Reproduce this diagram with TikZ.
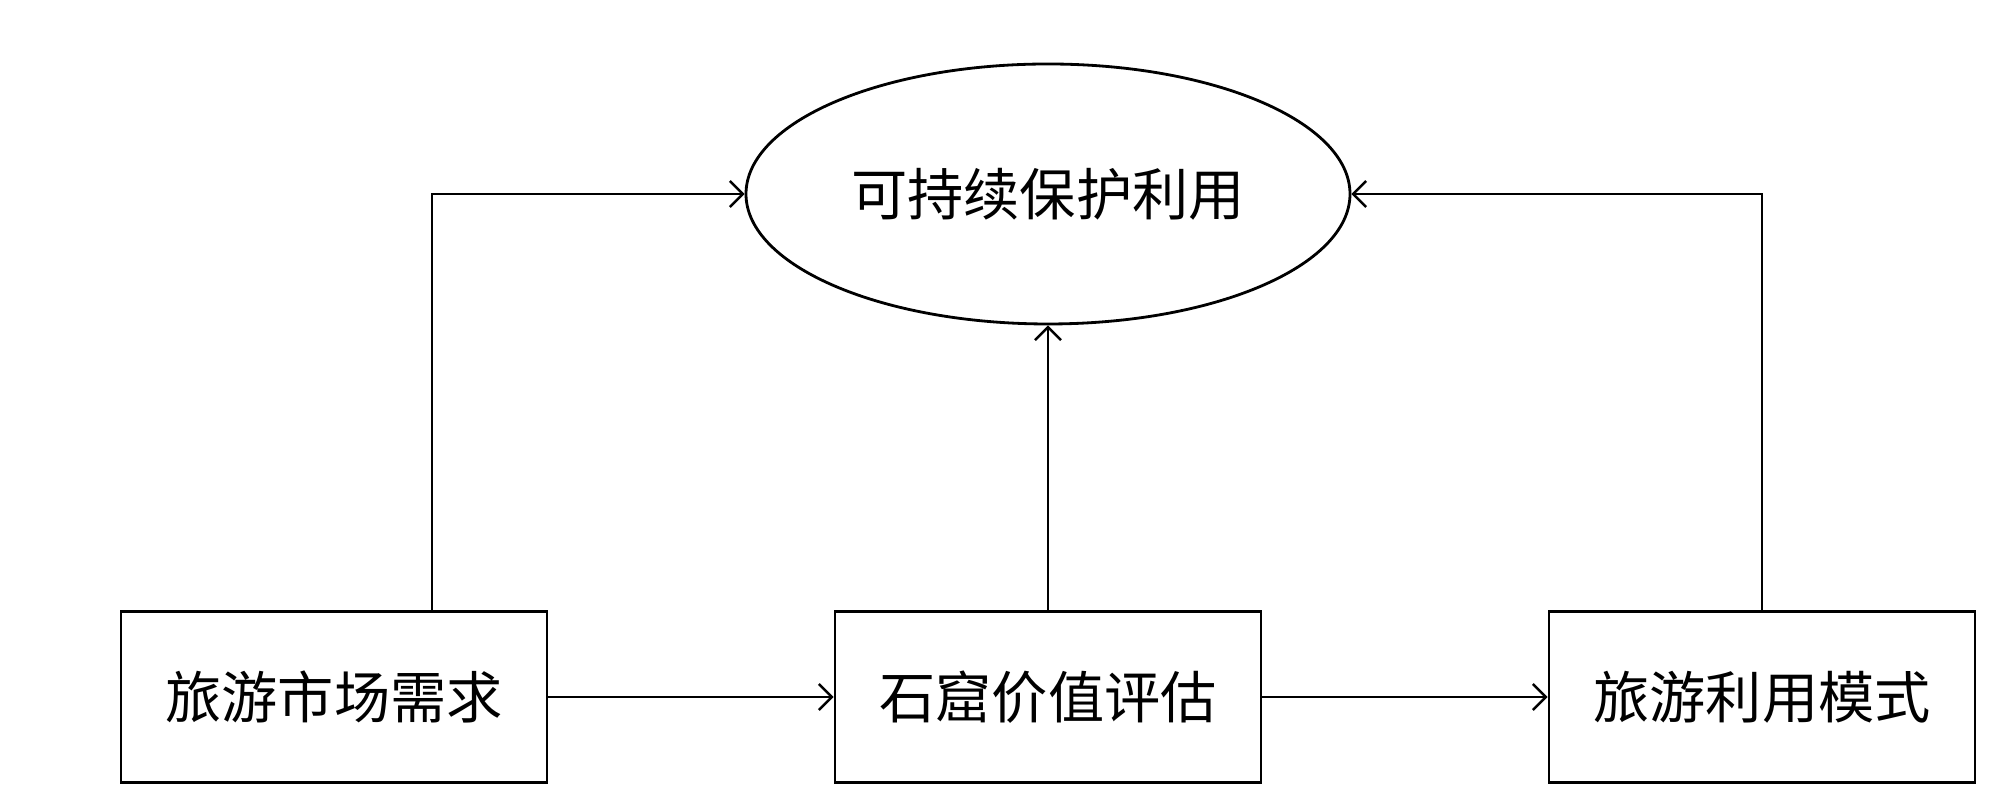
\documentclass[tikz,border=0pt]{standalone}
\usepackage{fontspec}
\setmainfont{Noto Sans CJK SC}
\usepackage{tikz}
\usetikzlibrary{shapes.geometric, arrows.meta, positioning}

\begin{document}
\begin{tikzpicture}[
  box/.style={rectangle, draw, line width=0.8pt, minimum width=4.26cm, minimum height=1.71cm, inner sep=0pt, font=\fontsize{16pt}{19pt}\selectfont},
  goalshape/.style={ellipse, draw, line width=0.8pt, minimum width=6.04cm, minimum height=2.6cm, inner sep=0pt, font=\fontsize{16pt}{19pt}\selectfont},
  arr/.style={-{Straight Barb[length=1.3mm, width=2.6mm]}, line width=0.7pt}
]
\useasboundingbox (0,0) rectangle (20,8);

% Goal
\node[goalshape] (goal) at (10.48,6.06) {可持续保护利用};

% Boxes
\node[box] (market) at (3.34,1.03) {旅游市场需求};
\node[box] (value) at (10.48,1.03) {石窟价值评估};
\node[box] (mode) at (17.62,1.03) {旅游利用模式};

% Arrows
\draw[arr] (market) -- (value);
\draw[arr] (value) -- (mode);
\draw[arr] (value) -- (goal);
\draw[arr] ([xshift=0.98cm]market.north) |- (goal.west);
\draw[arr] (mode.north) |- (goal.east);
\end{tikzpicture}
\end{document}
